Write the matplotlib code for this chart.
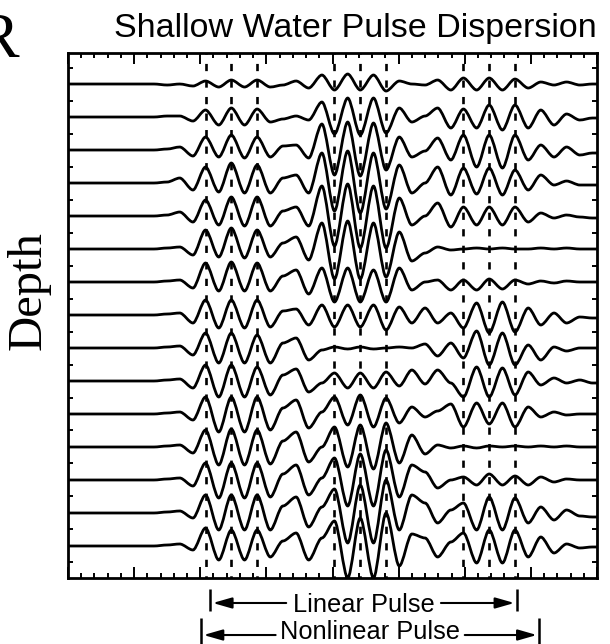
import matplotlib
matplotlib.use("Agg")
import matplotlib.pyplot as plt
from matplotlib.path import Path
from matplotlib.patches import PathPatch
from matplotlib.ticker import MultipleLocator, FixedLocator, NullLocator

plt.rcParams['lines.scale_dashes'] = False

# ---------------- data ----------------
# positions (range units) of successive wave extrema
extremum_x = [1.30, 1.50, 1.69, 1.89, 2.08, 2.28, 2.47, 2.67, 2.86, 3.06,
              3.25, 3.45, 3.64, 3.84, 4.03, 4.23, 4.42, 4.62, 4.81, 5.01,
              5.20, 5.40, 5.59, 5.79, 5.98, 6.18, 6.37, 6.57, 6.76, 6.96,
              7.15, 7.35, 7.54, 7.74, 7.93]

# signed extremum amplitude of each depth trace (top -> bottom), pixels
depth_01 = [0, -1, 0, -2, 3, -3, 4, -3, 4, -3, -1, 3, -4, 9, -6, 10, -6, 9, -7,
            3, 0, -1, 4, -6, 6, -6, 6, -6, 5, -4, 2, -1, 2, -1, 0]
depth_02 = [0, 1, 1, -4, 7, -8, 9, -8, 8, -5, -2, 1, -3, 15, -17, 19, -18, 19, -16,
            9, -5, 1, 9, -11, 8, -11, 12, -13, 12, -11, 7, -8, 3, -3, -1]
depth_03 = [0, 1, 3, -6, 13, -7, 15, -8, 13, -7, 4, 5, -8, 26, -25, 28, -26, 27, -20,
            13, -7, -1, 12, -10, 15, -17, 15, -18, 15, -10, 5, -7, 3, -5, -3]
depth_04 = [0, 1, 5, -7, 16, -9, 20, -10, 18, -10, 5, 8, -10, 30, -28, 32, -30, 30, -26,
            18, -10, 0, 16, -12, 15, -11, 15, -12, 13, -7, 8, -2, 2, -2, -2]
depth_05 = [0, 1, 4, -6, 16, -9, 19, -10, 19, -10, 5, 9, -10, 30, -30, 32, -32, 30, -32,
            18, -9, 0, 13, -11, 9, -9, 9, -9, 9, -6, 3, -2, 1, -1, -2]
depth_06 = [0, 1, 2, -6, 19, -8, 21, -9, 19, -8, 6, 12, -11, 26, -30, 28, -30, 26, -28,
            17, -12, -4, 2, -1, 0, 1, 0, 1, 0, 0, 1, 0, 1, 0, 0]
depth_07 = [0, 1, 2, -6, 19, -9, 20, -9, 19, -9, 6, 12, -12, 14, -20, 14, -20, 12, -20,
            14, -8, 0, 2, -8, 2, -8, 3, -7, 2, -2, 1, -1, 1, 0, 0]
depth_08 = [0, 1, 2, -8, 15, -13, 15, -13, 15, -12, 4, 6, -10, 10, -12, 10, -12, 10, -15,
            8, -8, 7, -8, 2, -13, 12, -18, 13, -17, 7, -10, 2, -8, -2, -3]
depth_09 = [0, 1, 2, -7, 15, -15, 15, -15, 13, -15, 5, 10, -12, -2, 1, -1, 1, -1, 0,
            1, 0, 4, -8, 5, -10, 17, -17, 15, -17, 3, -12, 1, -3, 0, 0]
depth_10 = [0, 1, 2, -7, 16, -16, 16, -16, 14, -14, 6, 12, -11, -2, 8, -7, 8, -7, 9,
            -5, 11, -3, 11, -2, -16, 14, -16, 13, -14, 9, -4, 3, -2, 1, -2]
depth_11 = [0, 1, 2, -6, 17, -18, 17, -18, 17, -16, 6, 14, -14, 2, 17, -11, 19, -13, 16,
            -9, 7, -3, 3, 10, -13, 11, -10, 11, -13, 7, -3, 2, -1, 0, 0]
depth_12 = [0, 1, 2, -6, 17, -18, 18, -18, 17, -17, 6, 15, -15, 0, 20, -20, 22, -22, 24,
            -16, 12, -7, 2, -1, 1, -1, 1, 0, 1, 0, 1, 0, 1, 0, 0]
depth_13 = [0, 1, 2, -6, 17, -18, 17, -18, 17, -17, 6, 15, -15, 2, 22, -26, 26, -26, 30,
            -17, 15, 8, -8, 0, 3, -5, 6, -5, 4, -5, 3, -2, 1, 0, 0]
depth_14 = [0, 1, 2, -5, 18, -17, 18, -17, 18, -17, 7, 16, -14, 6, 24, -30, 28, -30, 33,
            -17, 18, 10, -10, 3, 10, -17, 16, -17, 15, -10, 6, -7, 3, -3, -4]
depth_15 = [0, 1, 2, -4, 18, -14, 16, -14, 16, -11, 5, 13, -14, 8, 25, -32, 28, -32, 33,
            -20, 12, 8, -11, 4, 13, -17, 16, -17, 16, -11, 9, -7, 2, -2, -1]

traces = [depth_01, depth_02, depth_03, depth_04, depth_05, depth_06, depth_07,
          depth_08, depth_09, depth_10, depth_11, depth_12, depth_13, depth_14,
          depth_15]

# phase-marker (dashed) lines, range units
marker_x = [2.08, 2.47, 2.86, 4.03, 4.42, 4.81, 5.98, 6.37, 6.76]

linear_pulse_span = [2.15, 6.79]
nonlinear_pulse_span = [2.01, 7.13]

title = "Shallow Water Pulse Dispersion"
y_label = "Depth"
panel_letter = "R"

# ---------------- figure ----------------
W, H = 610, 644
fig = plt.figure(figsize=(W / 100, H / 100), dpi=100)
fig.patch.set_facecolor("white")
ax = fig.add_axes([68 / W, 66 / H, 529 / W, 525 / H])
ax.set_xlim(0, 8)
ax.set_ylim(-0.97, 14.94)

PX = 1.0 / 33.0      # one pixel of amplitude in trace-spacing units
C = 0.30             # bezier handle fraction

n = len(traces)
for i, vals in enumerate(traces):
    base = (n - 1) - i
    xs = [0.0] + extremum_x + [8.0]
    ys = [0.0] + list(vals) + [vals[-1]]
    verts = [(xs[0], base + ys[0] * PX), (xs[1], base + ys[1] * PX)]
    codes = [Path.MOVETO, Path.LINETO]
    for j in range(1, len(xs) - 2):
        x0, y0 = xs[j], base + ys[j] * PX
        x1, y1 = xs[j + 1], base + ys[j + 1] * PX
        h = x1 - x0
        verts += [(x0 + C * h, y0), (x1 - C * h, y1), (x1, y1)]
        codes += [Path.CURVE4] * 3
    verts.append((xs[-1], base + ys[-1] * PX))
    codes.append(Path.LINETO)
    ax.add_patch(PathPatch(Path(verts, codes), fill=False, lw=2.0,
                           ec="black", joinstyle="round", capstyle="round",
                           zorder=3))

for xm in marker_x:
    ax.axvline(xm, color="black", lw=1.9, linestyle=(3.6, (5.2, 6.7)),
               zorder=2)

# ticks
ax.xaxis.set_major_locator(MultipleLocator(1))
ax.xaxis.set_minor_locator(MultipleLocator(0.2))
ax.yaxis.set_major_locator(NullLocator())
ax.yaxis.set_minor_locator(FixedLocator([k + 0.5 for k in range(-1, n)]))
ax.tick_params(which="both", direction="in", top=True, bottom=True,
               left=True, right=True, labelbottom=False, labelleft=False,
               width=1.4, color="black")
ax.tick_params(which="major", length=8)
ax.tick_params(which="minor", length=3.8)
for s in ax.spines.values():
    s.set_linewidth(2.0)

# texts
fig.text(355 / W, 1 - 37 / H, title, ha="center", va="baseline",
         fontsize=24.5, family="Liberation Sans")
fig.text(29 / W, 1 - 291 / H, y_label, rotation=90, ha="center",
         va="center", fontsize=35, family="Liberation Serif")
fig.text(19 / W, 1 - 57 / H, panel_letter, ha="right", va="baseline",
         fontsize=46, family="Liberation Serif")

# pulse-span arrows below the axes
trans = ax.get_xaxis_transform()


def span_arrow(span, label, y_arrow, y_base, bar_lo, bar_hi, half_gap):
    a, b = span
    mid = 0.5 * (a + b)
    ax.text(mid, y_base, label, transform=trans, ha="center",
            va="baseline", fontsize=18.3, family="Liberation Sans",
            clip_on=False)
    for xb in (a, b):
        ax.plot([xb, xb], [bar_lo, bar_hi], transform=trans, color="black",
                lw=1.8, clip_on=False, solid_capstyle="butt")
    for tail, tip in ((mid - half_gap, a + 0.04), (mid + half_gap, b - 0.04)):
        ax.annotate("", xy=(tip, y_arrow), xytext=(tail, y_arrow),
                    xycoords=trans, textcoords=trans, annotation_clip=False,
                    arrowprops=dict(arrowstyle="-|>,head_length=1.15,head_width=0.33",
                                    color="black", lw=1.5,
                                    shrinkA=0, shrinkB=0))


span_arrow(linear_pulse_span, "Linear Pulse", -0.0476, -0.0648,
           -0.021, -0.063, 1.17)
span_arrow(nonlinear_pulse_span, "Nonlinear Pulse", -0.1086, -0.1162,
           -0.076, -0.128, 1.43)

fig.savefig("out.png", dpi=100, facecolor="white")
